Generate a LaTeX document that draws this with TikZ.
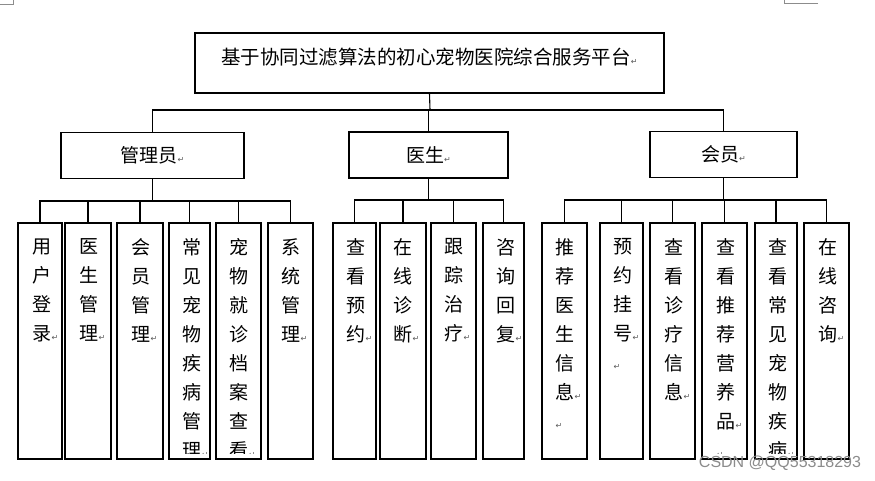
\documentclass[tikz,border=0pt]{standalone}
\usepackage{fontspec}
\usetikzlibrary{calc}
\setmainfont{Noto Sans CJK SC}
\newfontfamily\dejavu{DejaVu Sans}
\newfontfamily\wmfont{Liberation Sans}
\newcommand{\pmark}{{\dejavu\fontsize{8}{8}\selectfont\color{black!65}↵}}
\tikzset{
  x=1pt, y=-1pt,
  boxline/.style={draw=black, line width=1.1pt},
  topbox/.style={boxline, minimum width=469pt, minimum height=60pt, inner sep=0pt},
  midbox/.style={boxline, minimum height=46pt, inner sep=0pt, font=\fontsize{19}{19}\selectfont},
  leafbox/.style={boxline, minimum height=236pt, inner sep=0pt},
  leaftext/.style={anchor=north west, inner sep=0pt, align=left, font=\fontsize{19}{29}\selectfont},
  conn/.style={draw=black, line width=1.1pt},
  cornermark/.style={draw=black!45, line width=0.6pt}
}
\begin{document}
\begin{tikzpicture}
\useasboundingbox (0,0) rectangle (875,480);
\fill[white] (0,0) rectangle (875,480);

% page corner marks
\coordinate (c1) at (0,4); \coordinate (c2) at (13,4); \coordinate (c3) at (13,0);
\draw[cornermark] (c1) -- (c2) -- (c3);
\coordinate (c4) at (818,3); \coordinate (c5) at (784,3); \coordinate (c6) at (784,0);
\draw[cornermark] (c4) -- (c5) -- (c6);

% top
\node[topbox] (top) at (429.5,63) {};
\node[inner sep=0pt, font=\fontsize{19.5}{19.5}\selectfont] (toptext) at (429.5,57) {基于协同过滤算法的初心宠物医院综合服务平台\pmark};

% middle
\node[midbox, minimum width=183pt] (admin) at (152.5,155.5) {管理员\pmark};
\node[midbox, minimum width=159pt] (doctor) at (428.5,155) {医生\pmark};
\node[midbox, minimum width=147pt] (member) at (723.5,154.5) {会员\pmark};

\coordinate (bus) at (430,110);
\draw[conn] (top.south) -- (bus);
\draw[conn] (admin.north) |- (bus) -| (member.north);
\draw[conn] (doctor.north) -- (doctor.north |- bus);

% leaves
\node[leafbox, minimum width=44pt] (a1) at (40,341) {};
\node[leafbox, minimum width=46pt] (a2) at (88,341) {};
\node[leafbox, minimum width=46pt] (a3) at (140,341) {};
\node[leafbox, minimum width=41pt] (a4) at (189.5,341) {};
\node[leafbox, minimum width=45pt] (a5) at (238.5,341) {};
\node[leafbox, minimum width=45pt] (a6) at (290.5,341) {};

\node[leafbox, minimum width=43pt] (d1) at (354.5,341) {};
\node[leafbox, minimum width=46pt] (d2) at (403,341) {};
\node[leafbox, minimum width=45pt] (d3) at (453.5,341) {};
\node[leafbox, minimum width=41pt] (d4) at (503.5,341) {};

\node[leafbox, minimum width=45pt] (m1) at (564.5,341) {};
\node[leafbox, minimum width=43pt] (m2) at (621.5,341) {};
\node[leafbox, minimum width=45pt] (m3) at (672.5,341) {};
\node[leafbox, minimum width=45pt] (m4) at (724.5,341) {};
\node[leafbox, minimum width=42pt] (m5) at (776,341) {};
\node[leafbox, minimum width=45pt] (m6) at (826.5,341) {};

% connectors to leaves
\coordinate (abus) at (152.5,201);
\draw[conn] (admin.south) -- (abus);
\draw[conn] (a1.north) |- (abus) -| (a6.north);
\foreach \n in {a2,a3,a4,a5} \draw[conn] (\n.north) -- (\n.north |- abus);

\coordinate (dbus) at (428.5,200);
\draw[conn] (doctor.south) -- (dbus);
\draw[conn] (d1.north) |- (dbus) -| (d4.north);
\foreach \n in {d2,d3} \draw[conn] (\n.north) -- (\n.north |- dbus);

\coordinate (mbus) at (723.5,200);
\draw[conn] (member.south) -- (mbus);
\draw[conn] (m1.north) |- (mbus) -| (m6.north);
\foreach \n in {m2,m3,m4,m5} \draw[conn] (\n.north) -- (\n.north |- mbus);

% leaf texts
\begin{scope}
\clip (0,224) rectangle (875,453);
\node[leaftext] (ta1) at ($(a1.north west)+(15,16)$) {用\\户\\登\\录\pmark};
\node[leaftext] (ta2) at ($(a2.north west)+(15,16)$) {医\\生\\管\\理\pmark};
\node[leaftext] (ta3) at ($(a3.north west)+(15,16)$) {会\\员\\管\\理\pmark};
\node[leaftext] (ta4) at ($(a4.north west)+(14,16)$) {常\\见\\宠\\物\\疾\\病\\管\\理\pmark};
\node[leaftext] (ta5) at ($(a5.north west)+(14,16)$) {宠\\物\\就\\诊\\档\\案\\查\\看\pmark};
\node[leaftext] (ta6) at ($(a6.north west)+(14,16)$) {系\\统\\管\\理\pmark};

\node[leaftext] (td1) at ($(d1.north west)+(14,16)$) {查\\看\\预\\约\pmark};
\node[leaftext] (td2) at ($(d2.north west)+(14,16)$) {在\\线\\诊\\断\pmark};
\node[leaftext] (td3) at ($(d3.north west)+(14,16)$) {跟\\踪\\治\\疗\pmark};
\node[leaftext] (td4) at ($(d4.north west)+(14,16)$) {咨\\询\\回\\复\pmark};

\node[leaftext] (tm1) at ($(m1.north west)+(14,16)$) {推\\荐\\医\\生\\信\\息\pmark\\\pmark};
\node[leaftext] (tm2) at ($(m2.north west)+(14,16)$) {预\\约\\挂\\号\pmark\\\pmark};
\node[leaftext] (tm3) at ($(m3.north west)+(15,16)$) {查\\看\\诊\\疗\\信\\息\pmark};
\node[leaftext] (tm4) at ($(m4.north west)+(15,16)$) {查\\看\\推\\荐\\营\\养\\品\pmark\\\pmark};
\node[leaftext] (tm5) at ($(m5.north west)+(14,16)$) {查\\看\\常\\见\\宠\\物\\疾\\病\pmark};
\node[leaftext] (tm6) at ($(m6.north west)+(15,16)$) {在\\线\\咨\\询\pmark};
\end{scope}

% watermark
\node[inner sep=0pt, text=black!45, font=\wmfont\fontsize{16}{16}\selectfont] (wm) at (780,463) {CSDN @QQ55318293};
\end{tikzpicture}
\end{document}
